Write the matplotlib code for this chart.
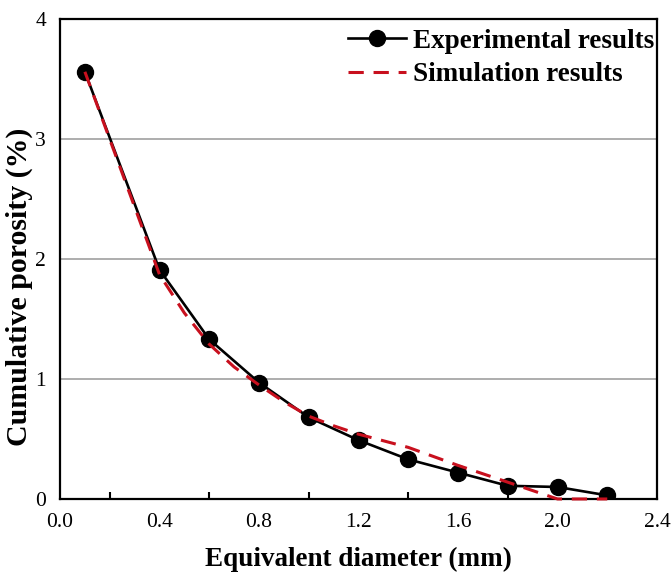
import matplotlib

matplotlib.use("Agg")

import matplotlib.pyplot as plt
from matplotlib.ticker import FixedLocator

# data
exp_x = [0.1, 0.4, 0.6, 0.8, 1.0, 1.2, 1.4, 1.6, 1.8, 2.0, 2.2]
exp_y = [3.56, 1.91, 1.33, 0.97, 0.68, 0.49, 0.33, 0.22, 0.11, 0.10, 0.03]

sim_x = [0.1, 0.4, 0.5, 0.6, 0.7, 0.8, 0.9, 1.0, 1.1, 1.2, 1.4, 1.6, 1.8, 2.0, 2.2]
sim_y = [3.56, 1.87, 1.55, 1.29, 1.10, 0.95, 0.81, 0.69, 0.61, 0.54, 0.43, 0.28, 0.14, 0.0, 0.0]

x_ticks = [0.0, 0.4, 0.8, 1.2, 1.6, 2.0, 2.4]
x_minor = [0.2, 0.6, 1.0, 1.4, 1.8, 2.2]
y_ticks = [0, 1, 2, 3, 4]

plt.rcParams["font.family"] = ["Liberation Serif", "DejaVu Serif"]

fig = plt.figure(figsize=(6.72, 5.75), dpi=100)
ax = fig.add_axes([0.0893, 0.1322, 0.8884, 0.8348])

ax.plot(exp_x, exp_y, color="black", lw=1.9, marker="o", ms=11.5,
        label="Experimental results", zorder=3)
ax.plot(sim_x, sim_y, color="#c8101e", lw=2.2, ls=(0, (5, 3.2)),
        label="Simulation results", zorder=4, clip_on=False)

ax.set_xlim(0, 2.4)
ax.set_ylim(0, 4)
ax.set_xticks(x_ticks)
ax.set_xticklabels([f"{v:.1f}" for v in x_ticks])
ax.xaxis.set_minor_locator(FixedLocator(x_minor))
ax.set_yticks(y_ticks)
ax.tick_params(axis="x", which="major", length=0, labelsize=15.5, pad=10)
ax.tick_params(axis="x", which="minor", direction="in", length=5, width=1.5)
ax.tick_params(axis="y", length=0, labelsize=15.5, pad=10)

ax.grid(axis="y", color="#a0a0a0", lw=1.2)
ax.set_axisbelow(True)
for s in ax.spines.values():
    s.set_linewidth(1.6)
    s.set_color("black")

ax.set_xlabel("Equivalent diameter (mm)", fontsize=19.5, fontweight="bold", labelpad=11)
ax.set_ylabel("Cumulative porosity (%)", fontsize=21.5, fontweight="bold")
ax.yaxis.set_label_coords(-0.046, 0.442)

leg = ax.legend(loc="upper right", bbox_to_anchor=(1.0, 0.985), frameon=False,
                prop={"size": 19.5, "weight": "bold"}, handlelength=2.15,
                handletextpad=0.25, borderaxespad=0.0, borderpad=0.1,
                labelspacing=0.3)

fig.savefig("out.png", dpi=100)
plt.close(fig)
